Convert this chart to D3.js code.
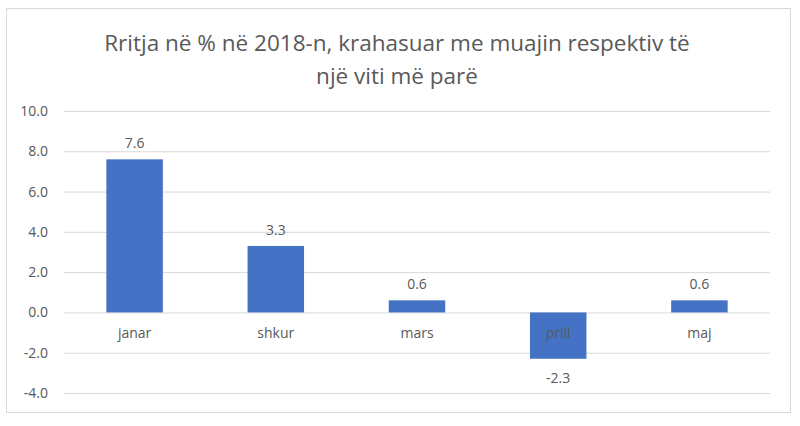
<!DOCTYPE html>
<html>
<head>
<meta charset="utf-8">
<script src="https://cdn.jsdelivr.net/npm/d3@7"></script>
<style>
  html, body { margin: 0; padding: 0; background: #fff; }
  svg { display: block; }
  text { font-family: "Open Sans", "Liberation Sans", sans-serif; fill: #595959; }
</style>
</head>
<body>
<svg id="chart" width="800" height="426"></svg>
<script>
// Monthly growth, 2018 vs the same month a year earlier (%)
const months = ["janar", "shkur", "mars", "prill", "maj"];
const growth = [7.6, 3.3, 0.6, -2.3, 0.6];
const yTicks = [-4, -2, 0, 2, 4, 6, 8, 10];
const titleLines = ["Rritja në % në 2018-n, krahasuar me muajin respektiv të", "një viti më parë"];

// one decimal, plain hyphen for negatives
const fmt = d3.formatLocale({ decimal: ".", thousands: ",", grouping: [3], currency: ["", ""], minus: "-" }).format(".1f");

const svg = d3.select("#chart");
const W = 800;
const margin = { left: 64, right: 30 };
const plotRight = W - margin.right;

// chart frame
svg.append("rect")
  .attr("x", 6.5).attr("y", 8.5)
  .attr("width", 784).attr("height", 404)
  .attr("fill", "#fff").attr("stroke", "#d9d9d9").attr("stroke-width", 1);

const y = d3.scaleLinear().domain([-4, 10]).range([393, 111]);
const x = d3.scaleBand().domain(months).range([margin.left, plotRight]).paddingInner(0.6).paddingOuter(0.3);

// title
const title = svg.append("text")
  .attr("text-anchor", "middle")
  .attr("font-size", 22.5);
title.selectAll("tspan").data(titleLines).join("tspan")
  .attr("x", 397)
  .attr("y", (d, i) => 51 + i * 33)
  .text(d => d);

// gridlines + y labels
const yAxis = d3.axisLeft(y).tickValues(yTicks).tickFormat(fmt)
  .tickSize(-(plotRight - margin.left)).tickPadding(16);
const gy = svg.append("g").attr("transform", `translate(${margin.left},0)`).call(yAxis);
gy.select(".domain").remove();
gy.selectAll(".tick line").attr("stroke", "#d9d9d9").attr("stroke-width", 1);
gy.selectAll(".tick text").attr("font-size", 14).attr("fill", "#595959")
  .style("font-family", "'Open Sans', sans-serif");

// bars
svg.append("g").selectAll("rect").data(months).join("rect")
  .attr("x", d => x(d))
  .attr("width", x.bandwidth())
  .attr("y", (d, i) => y(Math.max(0, growth[i])))
  .attr("height", (d, i) => Math.abs(y(growth[i]) - y(0)))
  .attr("fill", "#4472c4");

// category labels just below the zero line
svg.append("g").selectAll("text").data(months).join("text")
  .attr("x", d => x(d) + x.bandwidth() / 2)
  .attr("y", y(0) + 26)
  .attr("text-anchor", "middle")
  .attr("font-size", 14)
  .text(d => d);

// value labels
svg.append("g").selectAll("text").data(months).join("text")
  .attr("x", d => x(d) + x.bandwidth() / 2)
  .attr("y", (d, i) => growth[i] >= 0 ? y(growth[i]) - 11 : y(growth[i]) + 24)
  .attr("text-anchor", "middle")
  .attr("font-size", 14)
  .text((d, i) => fmt(growth[i]));
</script>
</body>
</html>
